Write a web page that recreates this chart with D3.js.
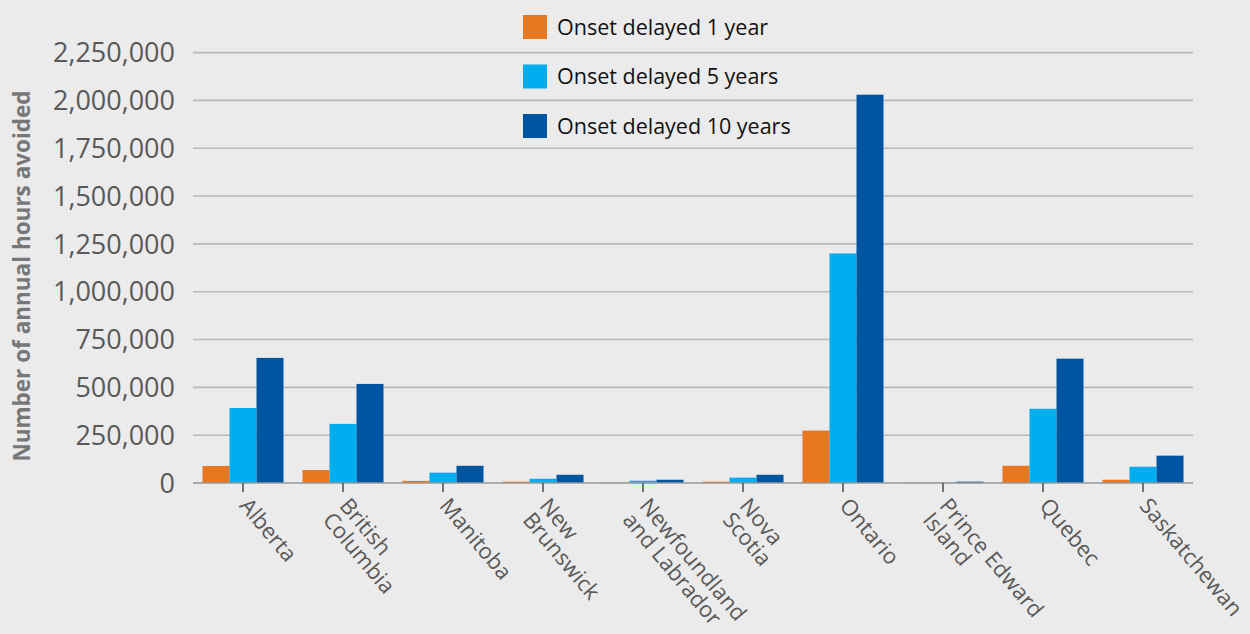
<!DOCTYPE html>
<html>
<head>
<meta charset="utf-8">
<script src="https://cdn.jsdelivr.net/npm/d3@7/dist/d3.min.js"></script>
<style>
  html, body { margin: 0; padding: 0; background: #ebebeb; }
  svg { display: block; }
</style>
</head>
<body>
<svg id="chart" width="1250" height="634"></svg>
<script>
// ---- data ----
const categories = ["Alberta", "British Columbia", "Manitoba", "New Brunswick", "Newfoundland and Labrador", "Nova Scotia", "Ontario", "Prince Edward Island", "Quebec", "Saskatchewan"];
const categoryLines = [["Alberta"], ["British", "Columbia"], ["Manitoba"], ["New", "Brunswick"], ["Newfoundland", "and Labrador"], ["Nova", "Scotia"], ["Ontario"], ["Prince Edward", "Island"], ["Quebec"], ["Saskatchewan"]];
const seriesNames = ["Onset delayed 1 year", "Onset delayed 5 years", "Onset delayed 10 years"];
const delayed1 = [89000, 68000, 11000, 7000, 2000, 7000, 274000, 1000, 90000, 17000];
const delayed5 = [392000, 309000, 54000, 22000, 12000, 28000, 1200000, 2000, 388000, 85000];
const delayed10 = [654000, 518000, 90000, 43000, 17000, 43000, 2030000, 7000, 650000, 143000];
const yTicks = [0, 250000, 500000, 750000, 1000000, 1250000, 1500000, 1750000, 2000000, 2250000];
const colors = ["#e87722", "#00aeef", "#0055a0"];

const seriesValues = [delayed1, delayed5, delayed10];

const svg = d3.select("#chart");
const pLeft = 193, pRight = 1193, pTop = 52.6, pBottom = 483;

const x = d3.scaleBand().domain(categories).range([pLeft, pRight]).paddingInner(0.19).paddingOuter(0.095);
const xs = d3.scaleBand().domain(seriesNames).range([0, x.bandwidth()]);
const y = d3.scaleLinear().domain([0, 2250000]).range([pBottom, pTop]);

// gridlines
svg.append("g").selectAll("line").data(yTicks.filter(d => d > 0)).join("line")
  .attr("x1", pLeft).attr("x2", pRight)
  .attr("y1", d => y(d)).attr("y2", d => y(d))
  .attr("stroke", "#b9b9b9").attr("stroke-width", 1.6);

// y tick labels
const fmt = d3.format(",");
svg.append("g").selectAll("text").data(yTicks).join("text")
  .attr("x", 175).attr("y", d => y(d))
  .attr("dy", "0.36em")
  .attr("text-anchor", "end")
  .attr("font-family", "Open Sans, sans-serif")
  .attr("font-size", 27)
  .attr("fill", "#595959")
  .text(d => fmt(d));

// y title
svg.append("text")
  .attr("transform", "translate(30,276) rotate(-90)")
  .attr("text-anchor", "middle")
  .attr("font-family", "Open Sans, sans-serif")
  .attr("font-weight", "bold")
  .attr("font-size", 22.5)
  .attr("fill", "#777777")
  .text("Number of annual hours avoided");

// bars
const groups = svg.append("g").selectAll("g").data(categories).join("g")
  .attr("transform", d => `translate(${x(d)},0)`);
groups.selectAll("rect").data((d, i) => seriesNames.map((s, j) => ({ s, v: seriesValues[j][i], j })))
  .join("rect")
  .attr("x", d => xs(d.s))
  .attr("width", xs.bandwidth())
  .attr("y", d => y(d.v))
  .attr("height", d => pBottom - y(d.v))
  .attr("fill", d => colors[d.j]);

// baseline
svg.append("line").attr("x1", pLeft).attr("x2", pRight).attr("y1", pBottom).attr("y2", pBottom)
  .attr("stroke", "#999").attr("stroke-width", 1.6);

// ticks
svg.append("g").selectAll("line").data(categories).join("line")
  .attr("x1", d => x(d) + x.bandwidth() / 2).attr("x2", d => x(d) + x.bandwidth() / 2)
  .attr("y1", pBottom).attr("y2", pBottom + 9)
  .attr("stroke", "#555").attr("stroke-width", 1.6);

// x labels
const xl = svg.append("g").selectAll("text").data(categories).join("text")
  .attr("transform", d => `translate(${x(d) + x.bandwidth() / 2 + 9},${pBottom + 12}) rotate(50)`)
  .attr("font-family", "Open Sans, sans-serif")
  .attr("font-size", 22)
  .attr("fill", "#595959");
xl.each(function (d, i) {
  const t = d3.select(this);
  categoryLines[i].forEach((ln, k) => {
    t.append("tspan").attr("x", 0).attr("y", 0).attr("dy", (0.8 + k * 1.0) + "em").text(ln);
  });
});

// legend
const lg = svg.append("g").selectAll("g").data(seriesNames).join("g")
  .attr("transform", (d, i) => `translate(523,${15 + i * 49.5})`);
lg.append("rect").attr("width", 24).attr("height", 24).attr("fill", (d, i) => colors[i]);
lg.append("text").attr("x", 34).attr("y", 12).attr("dy", "0.36em")
  .attr("font-family", "Open Sans, sans-serif")
  .attr("font-size", 21.5)
  .attr("fill", "#111111")
  .text(d => d);
</script>
</body>
</html>
